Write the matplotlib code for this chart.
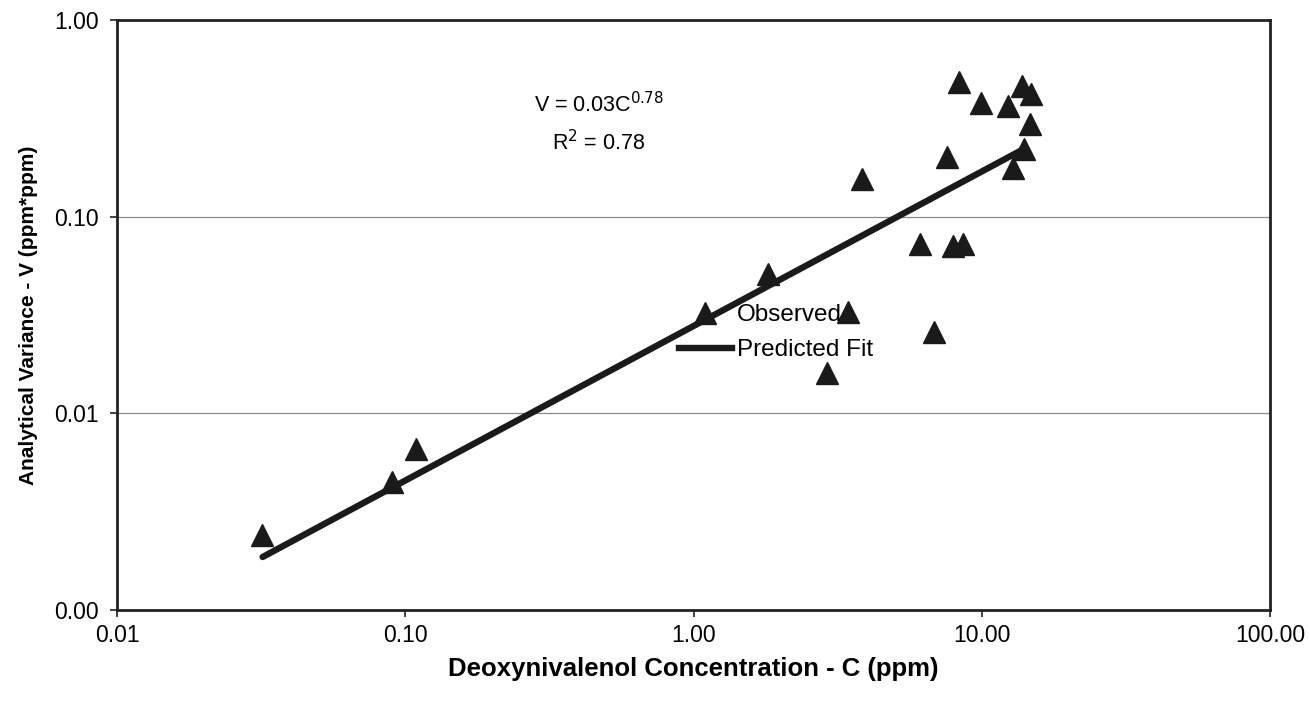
import matplotlib
matplotlib.use("Agg")
import matplotlib.pyplot as plt
from matplotlib.ticker import FixedLocator, FuncFormatter, NullLocator
from matplotlib.lines import Line2D

plt.rcParams['font.family'] = ['Liberation Sans', 'DejaVu Sans']

# Observed data (Deoxynivalenol concentration C, analytical variance V)
conc = [0.0319, 0.090, 0.109, 1.82, 3.43, 2.90, 3.83, 6.09, 6.81, 7.55,
        7.92, 8.59, 8.32, 9.93, 12.3, 13.8, 14.8, 14.7, 14.0, 12.8]
variance = [0.00240, 0.00447, 0.0066, 0.0514, 0.0326, 0.0160, 0.156, 0.073, 0.0258, 0.200,
            0.071, 0.073, 0.484, 0.380, 0.366, 0.460, 0.420, 0.296, 0.221, 0.177]

# Predicted fit line endpoints
fit_c = [0.032, 14.0]
fit_v = [0.00186, 0.221]

x_ticks = [0.01, 0.1, 1, 10, 100]
y_ticks = [0.001, 0.01, 0.1, 1]

fig = plt.figure(figsize=(13.1, 7.01), dpi=100)
ax = fig.add_axes([0.0893, 0.1298, 0.8802, 0.8417])

ax.set_xscale('log')
ax.set_yscale('log')
ax.set_xlim(0.01, 100)
ax.set_ylim(0.001, 1)

ax.plot(fit_c, fit_v, color='#1a1a1a', lw=4.6, solid_capstyle='round', zorder=2)
ax.plot(conc, variance, linestyle='none', marker='^', ms=16, color='#1a1a1a',
        markeredgecolor='#1a1a1a', zorder=3)

ax.xaxis.set_major_locator(FixedLocator(x_ticks))
ax.yaxis.set_major_locator(FixedLocator(y_ticks))
ax.xaxis.set_minor_locator(NullLocator())
ax.yaxis.set_minor_locator(NullLocator())
fmt = FuncFormatter(lambda v, p: f"{v:.2f}")
ax.xaxis.set_major_formatter(fmt)
ax.yaxis.set_major_formatter(fmt)
ax.tick_params(axis='both', labelsize=16.5, direction='out', length=5, width=1.2, color='#222222')
ax.tick_params(axis='x', pad=5)
ax.tick_params(axis='y', pad=8)

for y in [0.01, 0.1]:
    ax.axhline(y, color='#8a8a8a', lw=0.9, zorder=1)

for s in ax.spines.values():
    s.set_linewidth(2)
    s.set_color('#222222')

ax.set_xlabel('Deoxynivalenol Concentration - C (ppm)', fontsize=18.5, fontweight='bold', labelpad=7)
ax.set_ylabel('Analytical Variance - V (ppm*ppm)', fontsize=15, fontweight='bold', labelpad=12)

ax.text(0.418, 0.857, r'V = 0.03C$^{0.78}$', transform=ax.transAxes, ha='center', va='center', fontsize=15.5)
ax.text(0.418, 0.792, r'R$^{2}$ = 0.78', transform=ax.transAxes, ha='center', va='center', fontsize=15.5)

handles = [Line2D([], [], linestyle='none', marker='^', ms=16, color='#1a1a1a'),
           Line2D([], [], color='#1a1a1a', lw=4.6)]
ax.legend(handles, ['Observed', 'Predicted Fit'], loc='center left',
          bbox_to_anchor=(0.487, 0.47), frameon=False, fontsize=17.5,
          handlelength=2.2, handletextpad=0.2, labelspacing=0.55, borderpad=0,
          borderaxespad=0)

fig.savefig('out.png', dpi=100)
